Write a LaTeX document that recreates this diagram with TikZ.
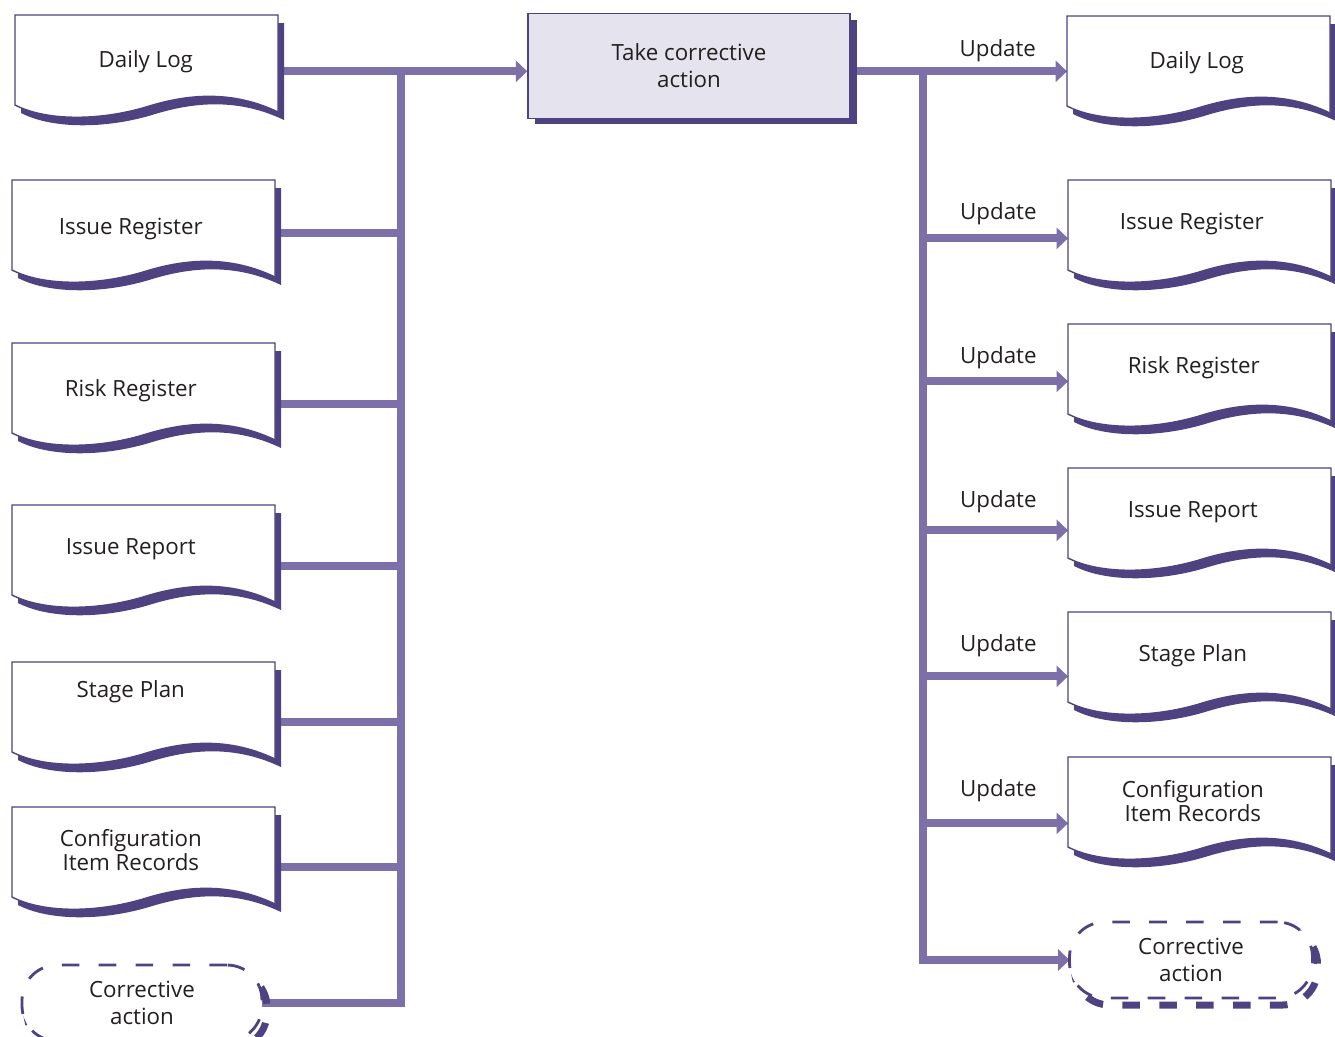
\documentclass[tikz,border=0pt]{standalone}
\usepackage{fontspec}
\setmainfont{Open Sans}
\usetikzlibrary{positioning,calc,arrows.meta,shadows}
\pgfdeclarelayer{background}
\pgfsetlayers{background,main}

\definecolor{inkdark}{HTML}{4E4281}
\definecolor{flowline}{HTML}{7D70A8}
\definecolor{actfill}{HTML}{E5E3EE}
\definecolor{txt}{HTML}{231F20}

\tikzset{
  txtfont/.style={font=\fontsize{12.7}{15.5}\selectfont, text=txt},
  % a record sheet, #1 = height of the line that leaves it
  sheet/.style={rectangle, inner sep=0pt, anchor=north west, minimum width=5.26cm, minimum height=#1*0.04cm},
  sheetpath/.style={insert path={(0,0) -- (263,0) -- (263,97) .. controls (211,72) and (163,82) .. (131,92) .. controls (84,106) and (31,106) .. (0,90) -- cycle}},
  sheetline/.style={draw=inkdark, line width=0.8pt, fill=white},
  doctext/.style={txtfont, align=center, inner sep=0pt},
  actbox/.style={rectangle, draw=inkdark, line width=0.9pt, fill=actfill, minimum width=6.44cm, minimum height=2.1cm,
    align=center, txtfont, general shadow={fill=inkdark, shadow xshift=0.14cm, shadow yshift=-0.12cm}},
  corrbox/.style={rectangle, rounded corners=0.7cm, draw=inkdark, line width=1.6pt, dash pattern=on 10pt off 11pt,
    fill=white, minimum height=1.52cm, outer sep=0pt, align=center, txtfont},
  corrshadow/.style={draw=inkdark, line width=4pt, rounded corners=0.7cm, dash pattern=on 10pt off 11pt},
  flow/.style={draw=flowline, line width=4.5pt},
  flowarrow/.style={-{Triangle[length=6.5pt,width=12pt]}},
  upd/.style={txtfont, inner sep=0pt}
}

\begin{document}
\begin{tikzpicture}[x=0.02cm, y=-0.02cm]
\useasboundingbox (0,0) rectangle (1335,1036);

% the task
\node[actbox] (act) at (689,66) {Take corrective\\action};

% records on the left
\node[sheet=56] (dlogL) at (15,15) {};
\node[sheet=53] (issregL) at (12,180) {};
\node[sheet=61] (riskregL) at (12,343) {};
\node[sheet=61] (issrepL) at (12,505) {};
\node[sheet=60] (splanL) at (12,662) {};
\node[sheet=60] (cirL) at (12,807) {};
\node[corrbox, minimum width=4.8cm] (corrL) at (142,1003) {Corrective\\action};

% records on the right
\node[sheet=55] (dlogR) at (1067,16) {};
\node[sheet=58] (issregR) at (1068,180) {};
\node[sheet=57] (riskregR) at (1068,324) {};
\node[sheet=62] (issrepR) at (1068,468) {};
\node[sheet=64] (splanR) at (1068,612) {};
\node[sheet=66] (cirR) at (1068,757) {};
\node[corrbox, minimum width=4.86cm] (corrR) at (1191,960) {Corrective\\action};

% sheet outlines with their shadow
\foreach \d in {dlogL,issregL,riskregL,issrepL,splanL,cirL,dlogR,issregR,riskregR,issrepR,splanR,cirR}{
  \begin{scope}[shift={(\d.north west)}]
    \fill[inkdark, shift={(6,8)}, sheetpath];
    \draw[sheetline, sheetpath];
  \end{scope}
}

% sheet titles
\node[doctext] (tdlogL) at ([shift={(-1,47)}]dlogL.north) {Daily Log};
\node[doctext] (tissregL) at ([shift={(-13,49)}]issregL.north) {Issue Register};
\node[doctext] (triskregL) at ([shift={(-13,48)}]riskregL.north) {Risk Register};
\node[doctext] (tissrepL) at ([shift={(-13,44)}]issrepL.north) {Issue Report};
\node[doctext] (tsplanL) at ([shift={(-13,30)}]splanL.north) {Stage Plan};
\node[doctext] (tcirL) at ([shift={(-13,43)}]cirL.north) {Configuration\\[-2pt]Item Records};

\node[doctext] (tdlogR) at ([shift={(-2,47)}]dlogR.north) {Daily Log};
\node[doctext] (tissregR) at ([shift={(-8,44)}]issregR.north) {Issue Register};
\node[doctext] (triskregR) at ([shift={(-6,44)}]riskregR.north) {Risk Register};
\node[doctext] (tissrepR) at ([shift={(-7,44)}]issrepR.north) {Issue Report};
\node[doctext] (tsplanR) at ([shift={(-7,44)}]splanR.north) {Stage Plan};
\node[doctext] (tcirR) at ([shift={(-7,44)}]cirR.north) {Configuration\\[-2pt]Item Records};

\begin{pgfonlayer}{background}
  \coordinate (spL) at (401,71);
  \coordinate (spR) at (923,71);

  % inputs
  \draw[flow, flowarrow] (dlogL.east) -- (dlogL.east -| act.west);
  \foreach \d in {issregL,riskregL,issrepL,splanL,cirL}
    \draw[flow] (\d.east) -- (\d.east -| spL);
  \draw[flow] (corrL.east) -| (spL);

  % outputs
  \draw[flow, flowarrow] (act.east |- dlogR.west) -- node[upd, pos=.68, shift={(0,-21)}] (udlogR) {Update} (dlogR.west);
  \foreach \d/\g in {issregR/25,riskregR/24,issrepR/29,splanR/31,cirR/33}
    \draw[flow, flowarrow] (\d.west -| spR) -- node[upd, pos=.52, shift={(0,-\g)}] (u\d) {Update} (\d.west);
  \draw[flow, flowarrow] (spR) |- (corrR.west);

  % dashed shadows of the corrective action boxes
  \draw[corrshadow] ([shift={(5,7)}]corrL.north west) rectangle ([shift={(5,7)}]corrL.south east);
  \draw[corrshadow] ([shift={(5,7)}]corrR.north west) rectangle ([shift={(5,7)}]corrR.south east);
\end{pgfonlayer}
\end{tikzpicture}
\end{document}
